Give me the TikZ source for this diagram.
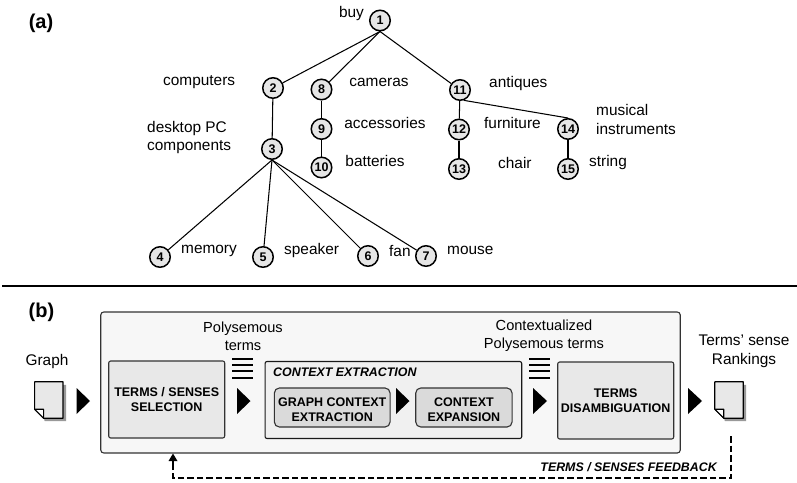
\documentclass[tikz,border=0pt]{standalone}
\usepackage{fontspec}
\setmainfont{Liberation Sans}
\tikzset{
 x=1pt,y=-1pt,
 num/.style={circle,draw=black,line width=1.5pt,fill=numfill,inner sep=0pt,minimum size=20.5pt,font=\fontsize{12.5}{12}\selectfont\bfseries},
 lab/.style={inner sep=0pt,font=\fontsize{15.4}{18.5}\selectfont,align=center},
 labs/.style={inner sep=0pt,font=\fontsize{14.6}{18}\selectfont,align=center},
 labl/.style={lab,anchor=west,align=left},
 edge/.style={draw=black,line width=1.05pt},
 tag/.style={inner sep=0pt,font=\fontsize{20}{20}\selectfont\bfseries},
 outerbox/.style={draw=black!80,line width=1.1pt,fill=outerfill,rounded corners=3pt,inner sep=0pt},
 stepbox/.style={draw=black!80,line width=1.1pt,fill=boxfill,rounded corners=2pt,inner sep=0pt,align=center,font=\fontsize{12.5}{15}\selectfont\bfseries},
 ctxbox/.style={draw=black!90,line width=1.1pt,fill=ctxfill,rounded corners=2pt,inner sep=0pt},
 subbox/.style={draw=black!80,line width=1.1pt,fill=subfill,rounded corners=5pt,inner sep=0pt,align=center,font=\fontsize{12.5}{15}\selectfont\bfseries},
 capt/.style={inner sep=0pt,font=\fontsize{12.4}{14}\selectfont\bfseries\itshape},
 play/.style={fill=black},
 stackline/.style={draw=black,line width=2pt},
 fb/.style={draw=black,line width=2.2pt,dash pattern=on 6.5pt off 3pt},
 docbox/.style={inner sep=0pt,minimum width=28pt,minimum height=36pt},
}
\definecolor{numfill}{HTML}{E6E6E6}
\definecolor{outerfill}{HTML}{F7F7F7}
\definecolor{boxfill}{HTML}{E8E8E8}
\definecolor{ctxfill}{HTML}{F0F0F0}
\definecolor{subfill}{HTML}{DADADA}
\newcommand{\docshape}[1]{%
 \fill[black!40] ([shift={(3,3)}]#1.north west) -- ([shift={(3,3)}]#1.north east) -- ([shift={(3,3)}]#1.south east) -- ([shift={(10,3)}]#1.south west) -- cycle;
 \draw[black,line width=1.2pt,fill=boxfill,line join=round] (#1.north west) -- (#1.north east) -- (#1.south east) -- ([xshift=9pt]#1.south west) -- ([yshift=9pt]#1.south west) -- cycle;
 \draw[black,line width=1.2pt,fill=white,line join=round] ([xshift=9pt]#1.south west) -- ([shift={(9,-9)}]#1.south west) -- ([yshift=9pt]#1.south west) -- cycle;
}
\newcommand{\playmark}[3]{\fill[play] (#1,#2) -- (#3,401) -- (#1,414) -- cycle;}
\newcommand{\stackmark}[2]{\foreach \yy in {358.7,365,371.2,377.5}{\draw[stackline] (#1,\yy) -- (#2,\yy);}}
\begin{document}
\begin{tikzpicture}
\useasboundingbox (0,0) rectangle (797,482);
% tree nodes
\node[num] (n1) at (380,20.5) {1};
\node[num] (n2) at (273,88) {2};
\node[num] (n3) at (272,149) {3};
\node[num] (n4) at (160,257) {4};
\node[num] (n5) at (263,257) {5};
\node[num] (n6) at (368,256) {6};
\node[num] (n7) at (426,256) {7};
\node[num] (n8) at (321.5,89.5) {8};
\node[num] (n9) at (321.5,129) {9};
\node[num] (n10) at (321.5,167.5) {10};
\node[num] (n11) at (460,90) {11};
\node[num] (n12) at (459,129.5) {12};
\node[num] (n13) at (459,169) {13};
\node[num] (n14) at (568,129) {14};
\node[num] (n15) at (568,169) {15};
% tree edges
\draw[edge] (n1.south) -- (n2);
\draw[edge] (n1.south) -- (n8);
\draw[edge] (n1.south) -- (n11);
\draw[edge] (n2) -- (n3);
\draw[edge] (n8) -- (n9);
\draw[edge] (n9) -- (n10);
\draw[edge] (n11) -- (n12);
\draw[edge] (n12) -- (n13);
\draw[edge] (n14) -- (n15);
\draw[edge] (n11.-70) -- (n14.north);
\draw[edge] (n3.south) -- (n4);
\draw[edge] (n3.south) -- (n5);
\draw[edge] (n3.south) -- (n6);
\draw[edge] (n3.south) -- (n7);
% tree labels
\node[tag] (ta) at (41,23) {(a)};
\node[lab] (l1) at (351.5,14) {buy};
\node[labl] (l2) at (163,82) {computers};
\node[lab] (l8) at (379,82) {cameras};
\node[lab] (l9) at (385,123) {accessories};
\node[lab] (l10) at (375,161) {batteries};
\node[labl] (l11) at (489,84) {antiques};
\node[labl] (l12) at (484,123) {furniture};
\node[labl] (l13) at (498,163) {chair};
\node[labl] (l14) at (596,119.5) {musical\\instruments};
\node[labl] (l15) at (589,163) {string};
\node[labl] (l3) at (147,137.5) {desktop PC\\components};
\node[labl] (l4) at (181,251) {memory};
\node[labl] (l5) at (284,251) {speaker};
\node[labl] (l6) at (389,251) {fan};
\node[labl] (l7) at (447,250) {mouse};
% separator
\coordinate (sepl) at (2,286);
\coordinate (sepr) at (797,286);
\draw[black,line width=1.1pt] (sepl) -- (sepr);
% lower part
\node[tag] (tb) at (41.5,312) {(b)};
\node[outerbox,minimum width=579.5pt,minimum height=141pt] (outer) at (390.5,382.5) {};
\node[stepbox,minimum width=116pt,minimum height=77pt] (sel) at (166.7,399.5) {TERMS / SENSES\\[-0.5pt]SELECTION};
\node[ctxbox,minimum width=256.7pt,minimum height=77pt] (ctx) at (393.4,400) {};
\node[capt,anchor=west] (ctxl) at (273,372) {CONTEXT EXTRACTION};
\node[subbox,minimum width=115.7pt,minimum height=39pt] (gce) at (332.2,407.5) {\rule{0pt}{13pt}GRAPH CONTEXT\\EXTRACTION};
\node[subbox,minimum width=96.3pt,minimum height=39pt] (cex) at (463.9,407.5) {\rule{0pt}{13pt}CONTEXT\\EXPANSION};
\node[stepbox,minimum width=116pt,minimum height=77pt] (dis) at (615.7,400.5) {TERMS\\[-0.5pt]DISAMBIGUATION};
\node[docbox] (gdoc) at (48.8,400) {};
\node[docbox] (rdoc) at (729,400) {};
\docshape{gdoc}
\docshape{rdoc}
\node[lab] (gl) at (47,362) {Graph};
\node[lab] (rl) at (744,351.5) {Terms' sense\\Rankings};
\node[labs] (pl) at (243,336) {Polysemous\\terms};
\node[labs] (cl) at (544,336) {Contextualized\\Polysemous terms};
\stackmark{232}{253}
\stackmark{529}{550}
\playmark{76.5}{388}{90}
\playmark{237}{388}{250.5}
\playmark{396}{388}{409.5}
\playmark{533}{388}{547}
\playmark{688}{388}{702}
% feedback
\coordinate (fbs) at (731,436);
\coordinate (fbb) at (731,478);
\coordinate (fbc) at (173,478);
\coordinate (fbe) at (173,453.5);
\draw[fb] (fbs) -- (fbb) -- (fbc) -- (173,461);
\fill[black] (fbe) -- (177.5,461) -- (168.5,461) -- cycle;
\draw[black,line width=2.2pt] (173,458) -- (173,466);
\node[capt,anchor=east] (fbl) at (717,467) {TERMS / SENSES FEEDBACK};
\end{tikzpicture}
\end{document}
